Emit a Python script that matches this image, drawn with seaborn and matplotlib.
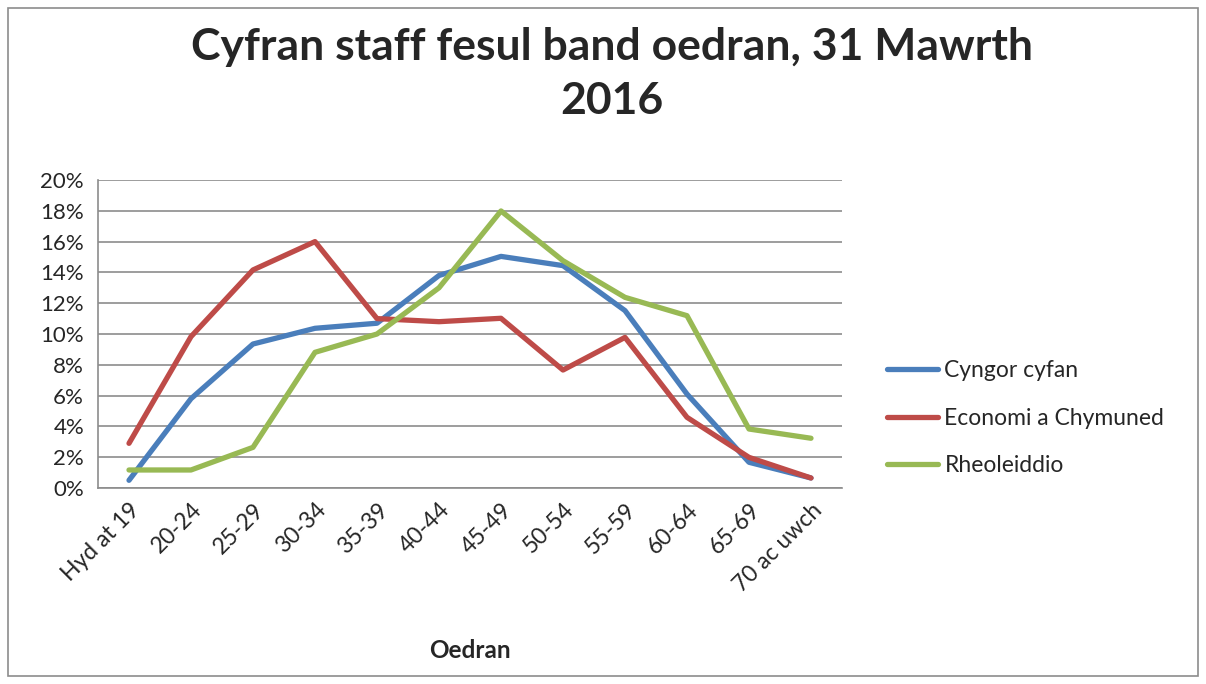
import matplotlib
matplotlib.use("Agg")
import matplotlib.pyplot as plt
import seaborn as sns
import pandas as pd
import numpy as np
from matplotlib.patches import Rectangle
from matplotlib.ticker import FixedLocator, PercentFormatter

categories = ["Hyd at 19", "20-24", "25-29", "30-34", "35-39", "40-44",
              "45-49", "50-54", "55-59", "60-64", "65-69", "70 ac uwch"]
series_names = ["Cyngor cyfan", "Economi a Chymuned", "Rheoleiddio"]
cyngor = [0.5, 5.8, 9.35, 10.37, 10.7, 13.8, 15.04, 14.44, 11.52, 6.1, 1.67, 0.65]
economi = [2.9, 9.83, 14.16, 16.0, 11.0, 10.8, 11.02, 7.66, 9.78, 4.59, 1.99, 0.65]
rheol = [1.17, 1.17, 2.64, 8.81, 10.0, 13.0, 17.99, 14.76, 12.38, 11.19, 3.83, 3.23]
colors = ["#4A7EBB", "#BE4B48", "#98B954"]
title = "Cyfran staff fesul band oedran, 31 Mawrth\n2016"
xlabel = "Oedran"

sns.set_style("white")
plt.rcParams["font.family"] = ["Lato", "DejaVu Sans"]

df = pd.DataFrame({
    "Oedran": categories * 3,
    "value": cyngor + economi + rheol,
    "series": [s for s in series_names for _ in categories],
})

fig = plt.figure(figsize=(12.06, 6.84), dpi=100)
ax = fig.add_axes([98 / 1206, 1 - 488 / 684, (842 - 98) / 1206, (488 - 180) / 684])

sns.lineplot(data=df, x="Oedran", y="value", hue="series", palette=colors,
             linewidth=3.8, sort=False, ax=ax)

ax.set_xlim(-0.5, len(categories) - 0.5)
ax.set_ylim(0, 20)
ax.set_yticks(np.arange(0, 21, 2))
ax.yaxis.set_major_formatter(PercentFormatter(decimals=0))
ax.yaxis.grid(True, color="#8C8C8C", linewidth=1.2)
ax.set_axisbelow(True)

ax.set_xticks(range(len(categories)))
ax.set_xticklabels(categories, rotation=45, ha="right", rotation_mode="anchor", fontsize=16.5)
ax.tick_params(axis="x", which="major", length=0, pad=8)
ax.xaxis.set_minor_locator(FixedLocator(np.arange(-0.5, len(categories), 1)))
ax.tick_params(axis="x", which="minor", length=6, width=1.2, color="#8C8C8C", direction="out")
ax.tick_params(axis="y", length=6, width=1.2, color="#8C8C8C", direction="out", labelsize=16, pad=4)

for s in ["top", "right"]:
    ax.spines[s].set_visible(False)
for s in ["left", "bottom"]:
    ax.spines[s].set_color("#8C8C8C")
    ax.spines[s].set_linewidth(1.2)

ax.set_xlabel(xlabel, fontsize=17.5, fontweight="bold")
ax.xaxis.set_label_coords(0.5, -0.49)
ax.set_ylabel("")

fig.text(612 / 1206, 1 - 74 / 684, title, ha="center", va="center",
         fontsize=32, fontweight="bold", linespacing=1.45)

leg = ax.legend(loc="center left", bbox_to_anchor=(1.033, 0.227), frameon=False,
                fontsize=16.5, handlelength=2.2, handletextpad=0.3, labelspacing=1.15)
for line in leg.get_lines():
    line.set_linewidth(3.8)

fig.patches.append(Rectangle((8 / 1206, 8 / 684), 1190 / 1206, 668 / 684,
                             transform=fig.transFigure, fill=False,
                             edgecolor="#8C8C8C", linewidth=1.2))

fig.savefig("out.png", dpi=100)
